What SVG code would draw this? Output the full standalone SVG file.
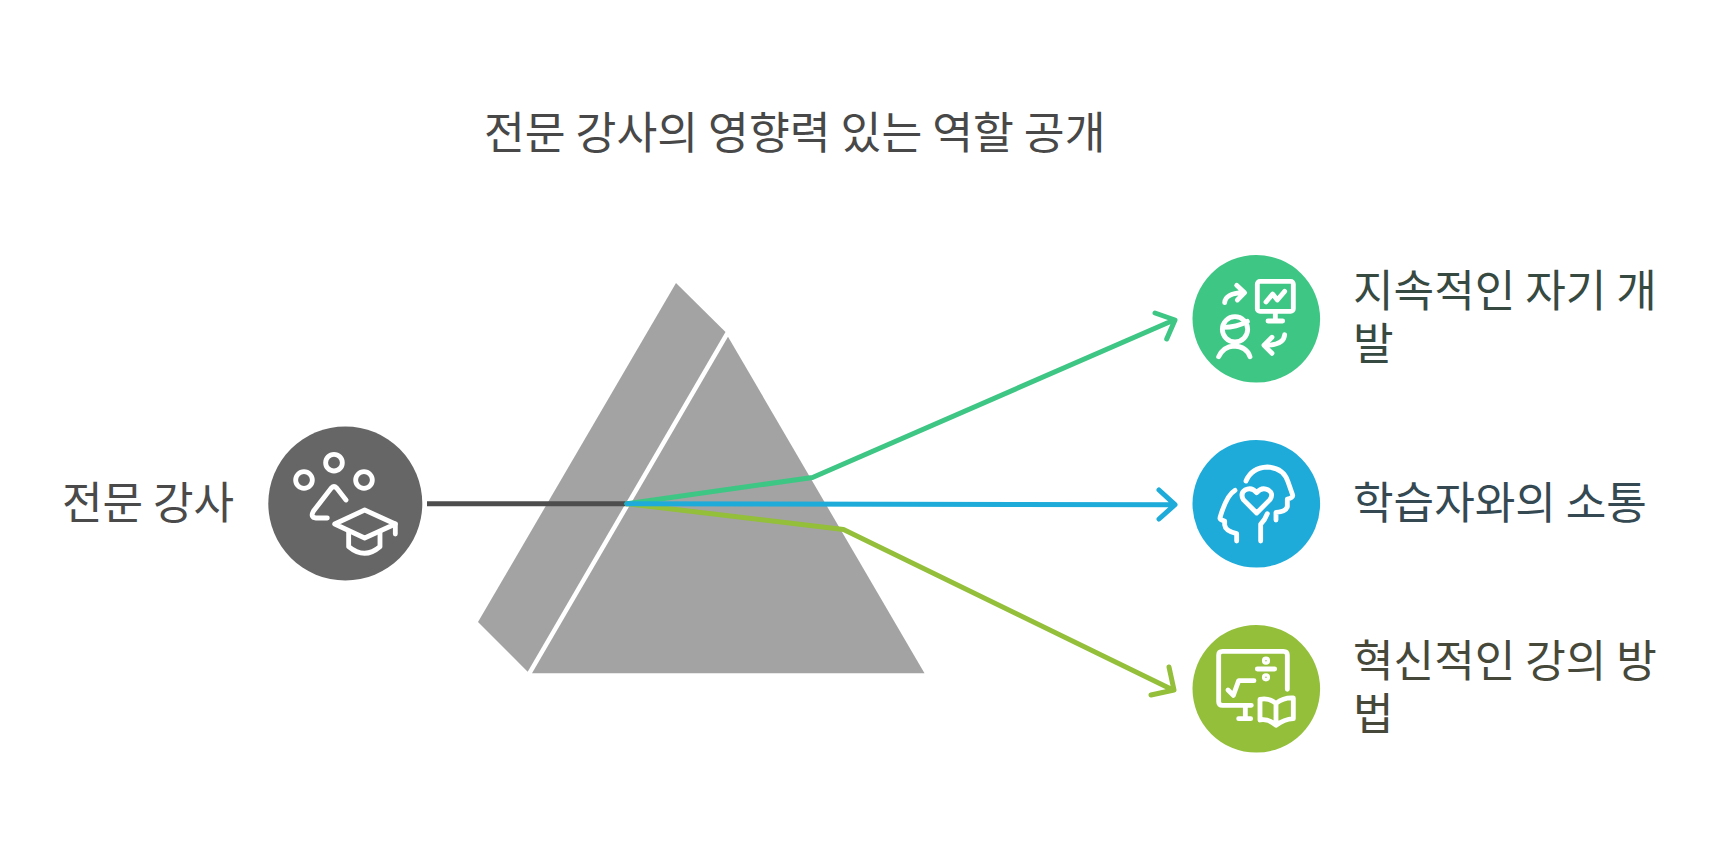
<svg xmlns="http://www.w3.org/2000/svg" width="1721" height="863" viewBox="0 0 1721 863">
<style>
text{font-family:"Noto Sans CJK KR","Noto Sans",sans-serif;font-size:44.4px}
.lb{font-size:44.1px}
.ic{fill:none;stroke:#fff;stroke-width:14.500;stroke-linecap:round;stroke-linejoin:round}
.c{fill:none;stroke-width:5;stroke-linecap:round;stroke-linejoin:round}
</style>
<rect width="1721" height="863" fill="#fff"/>
<g id="title"><text x="484" y="149" fill="#484848">전문 강사의 영향력 있는 역할 공개</text></g>
<g id="prism" fill="#a3a3a3">
<polygon points="676,283 725.5,332 527.7,671.7 478,622"/>
<polygon points="728,336.7 924.5,673.300 532,673.300"/>
</g>
<g id="connectors">
<path class="c" stroke="#4d4d4d" style="stroke-linecap:butt" d="M427 503.7H627"/>
<path class="c" stroke="#93bf3a" d="M627 503.7L843.5 529.5L1173 690M1169 667L1174 690L1151 695"/>
<path class="c" stroke="#3ec685" d="M627 503.7L812.500 477.500L1174 320M1155 313L1175 320L1166.700 339"/>
<path class="c" stroke="#1eabda" d="M627 503.7L1174 504.700M1159 490L1175 504.700L1159 519"/>
</g>
<g id="node-instructor">
<circle cx="345.300" cy="503.500" r="77" fill="#666"/>
<g class="ic" transform="translate(240 410) scale(.3333)">
<circle cx="282" cy="158" r="25"/><circle cx="192" cy="210" r="25"/><circle cx="372" cy="210" r="25"/>
<path d="M318 270L290 234Q282 226 274 234L220 304Q210 322 228 324H262"/>
<path d="M284 342L374 300L466 342L374 384Z"/>
<path d="M326 365V410Q374 450 420 410V365M466 342V372"/>
</g>
<text class="lb" x="62" y="518.500" fill="#4a4a4a">전문 강사</text>
</g>
<g id="node-development">
<circle cx="1256.300" cy="318.800" r="63.800" fill="#3ec685"/>
<g class="ic" transform="translate(1180 240) scale(.3333)">
<rect x="232" y="124" width="108" height="90" rx="8"/>
<path d="M286 214V243M264 243H308M258 186L278 162L292 180L314 154"/>
<path d="M134 188Q136 160 190 158M170 136L194 158L172 180"/>
<circle cx="165" cy="268" r="38"/>
<path d="M130 262Q170 262 202 244M116 350Q130 320 162 318Q200 320 210 350"/>
<path d="M314 284Q312 316 254 316M276 292L252 316L276 340"/>
</g>
<text class="lb" fill="#374a42"><tspan x="1353" y="307">지속적인 자기 개</tspan><tspan x="1353" y="360">발</tspan></text>
</g>
<g id="node-communication">
<circle cx="1256.300" cy="503.800" r="63.800" fill="#1eabda"/>
<g class="ic" transform="translate(1180 425) scale(.3333)">
<path d="M198 168Q215 128 262 126Q310 128 324 170L338 210Q340 218 322 222V245Q318 260 288 262V285"/>
<path d="M165 196Q140 210 120 278Q118 284 134 288V300Q136 318 170 326V348"/>
<path d="M262 266Q255 285 242 298V348"/>
<path d="M230 264L190 224Q180 205 195 195Q215 185 230 203Q245 185 265 195Q282 205 270 224Z"/>
</g>
<text class="lb" x="1353" y="518.500" fill="#344952">학습자와의 소통</text>
</g>
<g id="node-methods">
<circle cx="1256.300" cy="688.800" r="63.800" fill="#93bf3a"/>
<g class="ic" transform="translate(1180 610) scale(.3333)">
<path d="M322 238V135Q322 124 310 124H128Q116 124 116 135V275Q116 286 128 286H214"/>
<path d="M196 288V326M176 326H212M232 177H284"/>
<circle cx="258" cy="152" r="5"/><circle cx="258" cy="202" r="5"/>
<path d="M144 240L160 256L176 212H222"/>
<path d="M288 346Q265 325 240 330V268Q265 262 288 280Q312 262 340 264V326Q312 328 288 346ZM288 280V346"/>
</g>
<text class="lb" fill="#46493a"><tspan x="1353" y="677">혁신적인 강의 방</tspan><tspan x="1353" y="730">법</tspan></text>
</g>
</svg>
